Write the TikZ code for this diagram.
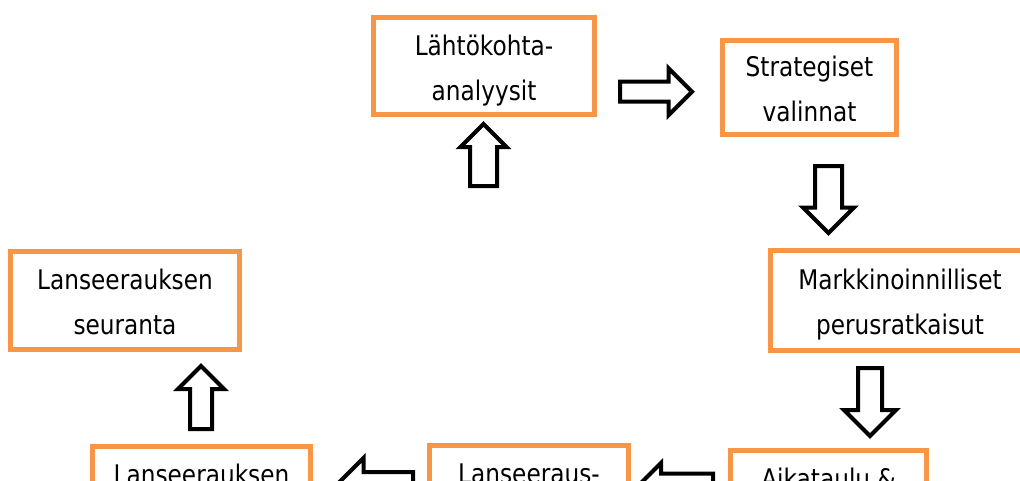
\documentclass[tikz,border=0pt]{standalone}
\usepackage{fontspec}
\setmainfont[FakeStretch=0.86]{DejaVu Sans}
\usetikzlibrary{shapes.arrows}
\definecolor{boxorange}{RGB}{247,150,70}
\tikzset{box/.style = {draw = boxorange, line width = 5pt, fill = white, align = center,
                       inner sep = 0pt, font = \fontsize{27pt}{45pt}\selectfont}}
\tikzset{twoline/.style = {box, text height = 74pt, text depth = 6pt}}
\tikzset{oneline/.style = {box, text height = 29pt, text depth = 51pt}}
\tikzset{blk/.style = {single arrow, draw = black, fill = white, line width = 4pt,
                       inner sep = 0pt, single arrow tip angle = 90}}
\begin{document}
\begin{tikzpicture}[x = 1pt, y = -1pt]
      \useasboundingbox (0, 0) rectangle (1020, 480);
      \clip (0, 0) rectangle (1020, 480);
      \node [twoline, minimum width = 221pt, minimum height = 97pt] (lahto) at (484, 66) {Lähtökohta-\\analyysit};
      \node [twoline, minimum width = 174pt, minimum height = 94pt] (strat) at (809.5, 87.5) {Strategiset\\valinnat};
      \node [twoline, minimum width = 259pt, minimum height = 100pt] (markk) at (900, 300.5) {Markkinoinnilliset\\perusratkaisut};
      \node [twoline, minimum width = 229pt, minimum height = 98pt] (seur) at (125, 300.5) {Lanseerauksen\\seuranta};
      \node [oneline, minimum width = 218pt, minimum height = 98pt] (lans) at (201.5, 495.5) {Lanseerauksen};
      \node [oneline, minimum width = 199pt, minimum height = 98pt] (lanser) at (529, 494.5) {Lanseeraus-};
      \node [oneline, minimum width = 196pt, minimum height = 98pt] (aika) at (828.5, 499.5) {Aikataulu \&};
      \node [blk, shape border rotate = 90, anchor = tail, minimum height = 62pt, inner xsep = 11.5pt,
             single arrow head extend = 9.5pt] (upa) at (483.5, 188) {};
      \node [blk, anchor = tail, minimum height = 72pt, inner ysep = 8pt,
             single arrow head extend = 13.5pt] (righta) at (618, 91.7) {};
      \node [blk, shape border rotate = 270, anchor = tail, minimum height = 67pt, inner xsep = 11.5pt,
             single arrow head extend = 12pt] (downa) at (828.5, 164) {};
      \node [blk, shape border rotate = 270, anchor = tail, minimum height = 68pt, inner xsep = 10pt,
             single arrow head extend = 14pt] (downb) at (870, 366) {};
      \node [blk, shape border rotate = 90, anchor = tail, minimum height = 63pt, inner xsep = 9pt,
             single arrow head extend = 12pt] (upb) at (201, 431) {};
      \node [blk, shape border rotate = 180, anchor = tail, minimum height = 76pt, inner ysep = 10.5pt,
             single arrow head extend = 14pt] (lefta) at (415, 484.5) {};
      \node [blk, shape border rotate = 180, anchor = tail, minimum height = 75pt, inner ysep = 10.5pt,
             single arrow head extend = 10.5pt] (leftb) at (715, 486) {};
\end{tikzpicture}
\end{document}
